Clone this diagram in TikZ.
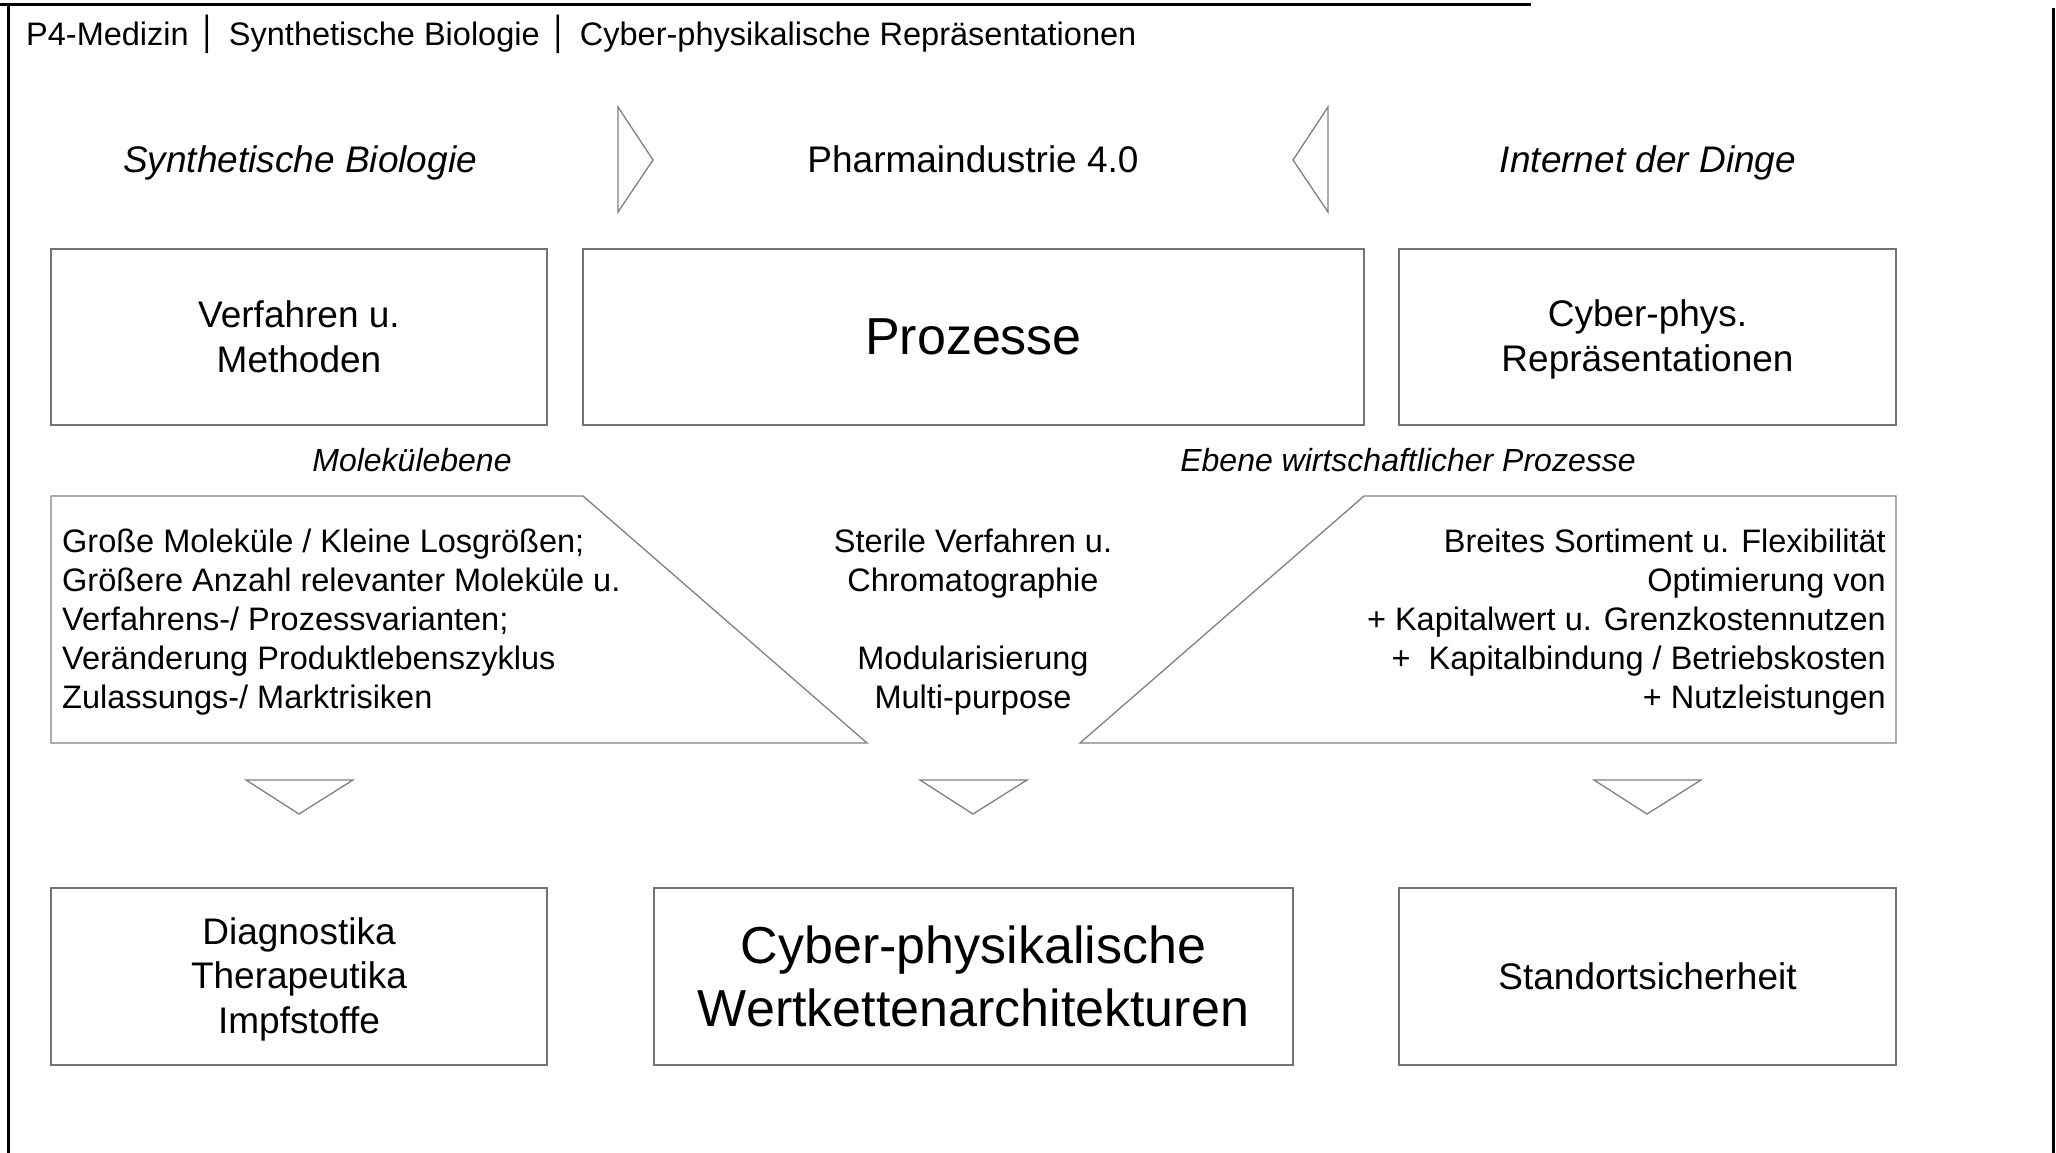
\documentclass[tikz,border=0pt]{standalone}
\usepackage{fontspec}
\setmainfont{Liberation Sans}
\newfontfamily\barfont{DejaVu Sans}
\begin{document}
\begin{tikzpicture}[x=1pt,y=-1pt,
  frameline/.style={draw=black, line width=3pt},
  box/.style={draw=black!55, line width=2pt, fill=white, inner sep=0pt, align=center},
  outline/.style={draw=black!50, line width=1.3pt},
  headtxt/.style={font=\fontsize{37}{44.5}\selectfont, inner sep=0pt},
  boxtxt/.style={font=\fontsize{37}{44.5}\selectfont},
  bigtxt/.style={font=\fontsize{52}{63}\selectfont},
  leveltxt/.style={font=\fontsize{32}{38}\selectfont\itshape, inner sep=0pt},
  listtxt/.style={font=\fontsize{32.5}{39}\selectfont, inner sep=0pt}
]
\useasboundingbox (0,0) rectangle (2056,1153);

% outer frame (open at the top right)
\draw[frameline] (0,5) -- (1531,5);
\draw[frameline] (8,5) -- (8,1153);
\draw[frameline] (2053,8) -- (2053,1153);

% title line
\node[anchor=west, inner sep=0pt, font=\fontsize{32.5}{38}\selectfont] (title) at (26,34)
  {P4-Medizin {\barfont│}\hspace{0.08em} Synthetische Biologie {\barfont│}\hspace{0.08em} Cyber-physikalische Repräsentationen};

% column headings
\node[headtxt, font=\fontsize{37}{44.5}\selectfont\itshape] (hsb) at (300,163) {Synthetische Biologie};
\node[headtxt] (hph) at (973,159) {Pharmaindustrie 4.0};
\node[headtxt, font=\fontsize{37}{44.5}\selectfont\itshape] (hiot) at (1648,163) {Internet der Dinge};

% side pointers towards the centre heading
\draw[outline] (618,107) -- (653,160) -- (618,212) -- cycle;
\draw[outline] (1328,107) -- (1293,160) -- (1328,212) -- cycle;

% upper row of boxes
\node[box, boxtxt, minimum width=496pt, minimum height=176pt] (vm) at (299,337)
  {Verfahren u.\\Methoden};
\node[box, bigtxt, minimum width=781pt, minimum height=176pt] (proz) at (973.5,337)
  {Prozesse};
\node[box, boxtxt, minimum width=497pt, minimum height=176pt] (cpr) at (1647.5,337)
  {\rule{0pt}{32pt}Cyber-phys.\\Repräsentationen};

% level labels
\node[leveltxt] (lmol) at (412,460) {Molekülebene};
\node[leveltxt] (lwirt) at (1408,460) {Ebene wirtschaftlicher Prozesse};

% slanted panels
\draw[outline] (51,496) -- (583,496) -- (867,743) -- (51,743) -- cycle;
\draw[outline] (1364,496) -- (1896,496) -- (1896,743) -- (1080,743) -- cycle;

\node[listtxt, anchor=west, align=left] (tmol) at (62,622.5)
  {Große Moleküle / Kleine Losgrößen;\\
   Größere Anzahl relevanter Moleküle u.\\
   Verfahrens-/ Prozessvarianten;\\
   Veränderung Produktlebenszyklus\\
   Zulassungs-/ Marktrisiken};
\node[listtxt, align=center] (tmid) at (973,622.5)
  {Sterile Verfahren u.\\
   Chromatographie\\[39pt]
   Modularisierung\\
   Multi-purpose};
\node[listtxt, anchor=east, align=right] (twirt) at (1886,622.5)
  {Breites Sortiment u. Flexibilität\\
   Optimierung von\\
   + Kapitalwert u. Grenzkostennutzen\\
   +~ Kapitalbindung / Betriebskosten\\
   + Nutzleistungen};

% downward pointers
\draw[outline] (246,780) -- (353,780) -- (299,814) -- cycle;
\draw[outline] (920,780) -- (1027,780) -- (973,814) -- cycle;
\draw[outline] (1594,780) -- (1701,780) -- (1647,814) -- cycle;

% lower row of boxes
\node[box, boxtxt, minimum width=496pt, minimum height=177pt] (dti) at (299,976.5)
  {\rule{0pt}{32pt}Diagnostika\\Therapeutika\\Impfstoffe};
\node[box, bigtxt, minimum width=639pt, minimum height=177pt] (cpw) at (973.5,976.5)
  {Cyber-physikalische\\Wertkettenarchitekturen};
\node[box, boxtxt, minimum width=497pt, minimum height=177pt] (sts) at (1647.5,976.5)
  {Standortsicherheit};
\end{tikzpicture}
\end{document}
